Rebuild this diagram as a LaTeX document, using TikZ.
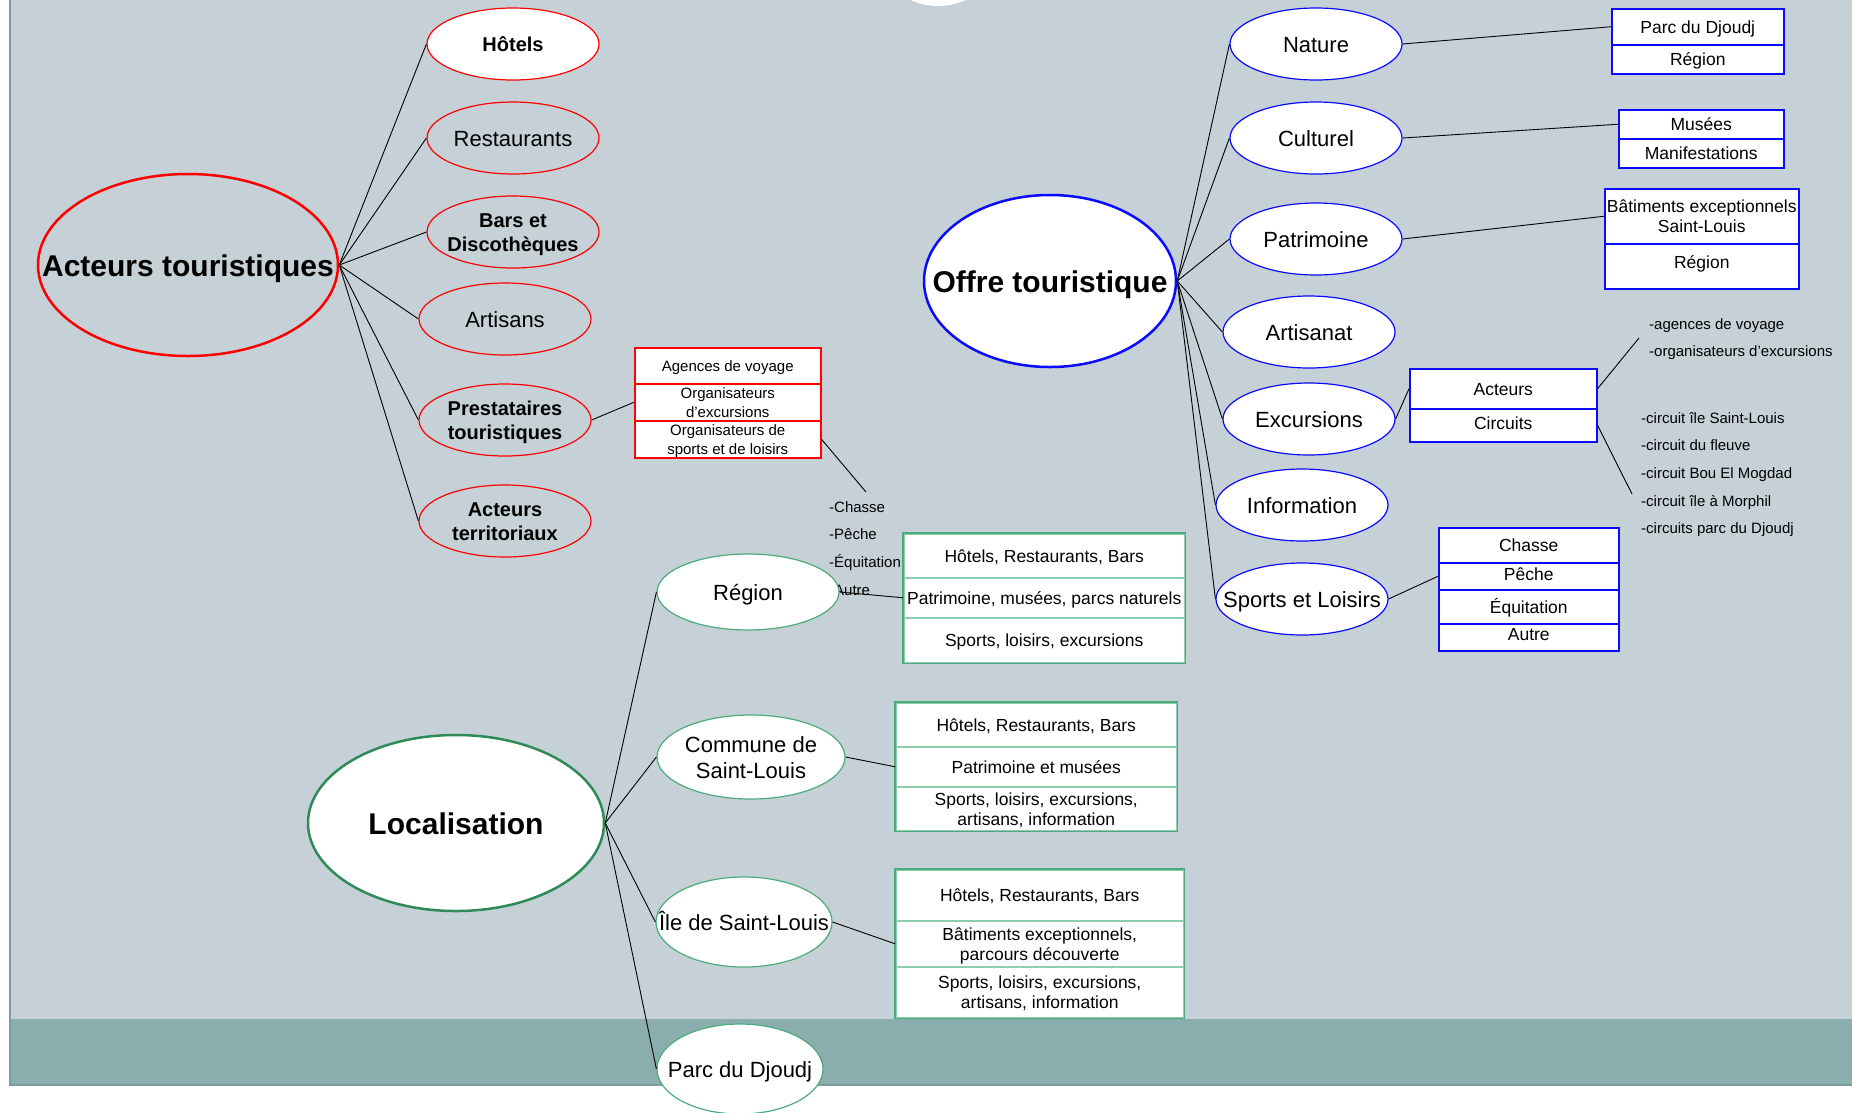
\documentclass[tikz,border=0pt]{standalone}
\usepackage{fontspec}
\setmainfont{Liberation Sans}
\usetikzlibrary{shapes.geometric}
\definecolor{slidebg}{HTML}{C5D1D7}
\definecolor{slideband}{HTML}{8AADAD}
\definecolor{slideedge}{HTML}{7B9C9C}
\definecolor{acteurred}{HTML}{FF0000}
\definecolor{offreblue}{HTML}{0A0AFF}
\definecolor{lieugreen}{HTML}{2E8B57}
\definecolor{cellgreen}{HTML}{4DAA7A}
\definecolor{rulegreen}{HTML}{8CCFAE}
\newcommand{\leafw}{172pt}
\newcommand{\leafh}{72pt}
\newcommand{\hubfont}{\fontsize{30}{34}\selectfont\bfseries}
\newcommand{\leaffont}{\fontsize{22}{26}\selectfont}
\newcommand{\leafbold}{\fontsize{20}{24}\selectfont\bfseries}
\newcommand{\cellfont}{\fontsize{17.5}{20}\selectfont}
\newcommand{\smallcell}{\fontsize{15}{18.5}\selectfont}
\newcommand{\listfont}{\fontsize{15}{27.7}\selectfont}
\newcommand{\ctext}[1]{\makebox[0pt]{\raisebox{-0.14em}[\height][\depth]{\begin{tabular}{@{}c@{}}#1\end{tabular}}}}

\begin{document}
\begin{tikzpicture}[x=1pt, y=-1pt,
    hub/.style={ellipse, inner sep=0pt, line width=2.5pt, font=\hubfont},
    leaf/.style={ellipse, inner sep=0pt, line width=1.2pt, minimum width=\leafw, minimum height=\leafh, font=\leaffont},
    cell/.style={rectangle, anchor=north west, inner sep=0pt, fill=white, line width=1.5pt},
    redcell/.style={cell, draw=acteurred, font=\smallcell},
    bluecell/.style={cell, draw=offreblue, font=\cellfont},
    greencell/.style={cell, draw=rulegreen, font=\cellfont},
    listtext/.style={anchor=north west, inner sep=0pt, align=left, font=\listfont},
    link/.style={line width=0.9pt}]
    \useasboundingbox (0,0) rectangle (1852,1112);

    % slide
    \fill[white] (0,0) rectangle (1852,1112);
    \fill[slidebg] (9,0) rectangle (1852,1019);
    \fill[slideband] (9,1019) rectangle (1852,1085);
    \draw[slideedge, line width=2.5pt] (10,0) -- (10,1085) -- (1852,1085);
    \fill[white] (938,-60) circle (66pt);

    % side lists
    \node[listtext] (sportsList) at (829,501) {-Chasse\\-Pêche\\-Équitation\\-Autre};
    \node[listtext] (acteursList) at (1649,318) {-agences de voyage\\-organisateurs d’excursions};
    \node[listtext] (circuitsList) at (1641,412) {-circuit île Saint-Louis\\-circuit du fleuve\\-circuit Bou El Mogdad\\-circuit île à Morphil\\-circuits parc du Djoudj};
    \coordinate (sportsTip) at (866,492);
    \coordinate (acteursTip) at (1639,338);
    \coordinate (circuitsTip) at (1632,494);

    % acteurs touristiques
    \node[hub, draw=acteurred, minimum width=300pt, minimum height=182pt] (acteurs) at (188,265) {\ctext{Acteurs touristiques}};
    \node[leaf, draw=acteurred, fill=white, font=\leafbold] (hotels) at (513,44) {\ctext{Hôtels}};
    \node[leaf, draw=acteurred] (restos) at (513,138) {\ctext{Restaurants}};
    \node[leaf, draw=acteurred, font=\leafbold] (bars) at (513,232) {\ctext{Bars et\\Discothèques}};
    \node[leaf, draw=acteurred] (artisans) at (505,319) {\ctext{Artisans}};
    \node[leaf, draw=acteurred, font=\leafbold] (prest) at (505,420) {\ctext{Prestataires\\touristiques}};
    \node[leaf, draw=acteurred, font=\leafbold] (territ) at (505,521) {\ctext{Acteurs\\territoriaux}};

    \node[redcell, minimum width=186pt, minimum height=36pt] (pr1) at (634,347) {\ctext{Agences de voyage}};
    \node[redcell, minimum width=186pt, minimum height=37pt] (pr2) at (634,383) {\ctext{Organisateurs\\d’excursions}};
    \node[redcell, minimum width=186pt, minimum height=36pt] (pr3) at (634,420) {\ctext{Organisateurs de\\sports et de loisirs}};

    % offre touristique
    \node[hub, draw=offreblue, fill=white, minimum width=252pt, minimum height=172pt] (offre) at (1050,281) {\ctext{Offre touristique}};
    \node[leaf, draw=offreblue, fill=white] (nature) at (1316,44) {\ctext{Nature}};
    \node[leaf, draw=offreblue, fill=white] (culturel) at (1316,138) {\ctext{Culturel}};
    \node[leaf, draw=offreblue, fill=white] (patrimoine) at (1316,239) {\ctext{Patrimoine}};
    \node[leaf, draw=offreblue, fill=white] (artisanat) at (1309,332) {\ctext{Artisanat}};
    \node[leaf, draw=offreblue, fill=white] (excursions) at (1309,419) {\ctext{Excursions}};
    \node[leaf, draw=offreblue, fill=white] (information) at (1302,505) {\ctext{Information}};
    \node[leaf, draw=offreblue, fill=white] (sports) at (1302,599) {\ctext{Sports et Loisirs}};

    \node[bluecell, minimum width=172pt, minimum height=36pt] (nat1) at (1611,8) {\ctext{Parc du Djoudj}};
    \node[bluecell, minimum width=172pt, minimum height=29pt] (nat2) at (1611,44) {\ctext{Région}};
    \node[bluecell, minimum width=165pt, minimum height=29pt] (cul1) at (1618,109) {\ctext{Musées}};
    \node[bluecell, minimum width=165pt, minimum height=29pt] (cul2) at (1618,138) {\ctext{Manifestations}};
    \node[bluecell, minimum width=194pt, minimum height=55pt] (pat1) at (1604,188) {\ctext{Bâtiments exceptionnels\\Saint-Louis}};
    \node[bluecell, minimum width=194pt, minimum height=45pt] (pat2) at (1604,243) {\ctext{\raisebox{8pt}{Région}}};
    \node[bluecell, minimum width=187pt, minimum height=40pt] (exc1) at (1409,368) {\ctext{Acteurs}};
    \node[bluecell, minimum width=187pt, minimum height=33pt] (exc2) at (1409,408) {\ctext{\raisebox{3pt}{Circuits}}};
    \node[bluecell, minimum width=180pt, minimum height=35pt] (spo1) at (1438,527) {\ctext{Chasse}};
    \node[bluecell, minimum width=180pt, minimum height=27pt] (spo2) at (1438,562) {\ctext{\raisebox{4pt}{Pêche}}};
    \node[bluecell, minimum width=180pt, minimum height=34pt] (spo3) at (1438,589) {\ctext{Équitation}};
    \node[bluecell, minimum width=180pt, minimum height=27pt] (spo4) at (1438,623) {\ctext{\raisebox{5pt}{Autre}}};

    % localisation
    \node[hub, draw=lieugreen, fill=white, minimum width=296pt, minimum height=176pt] (loc) at (456,823) {\ctext{Localisation}};
    \node[leaf, draw=cellgreen, fill=white, minimum width=182pt, minimum height=76pt] (region) at (748,592) {\ctext{Région}};
    \node[leaf, draw=cellgreen, fill=white, minimum width=188pt, minimum height=84pt] (commune) at (751,757) {\ctext{Commune de\\Saint-Louis}};
    \node[leaf, draw=cellgreen, fill=white, minimum width=176pt, minimum height=90pt] (ile) at (744,922) {\ctext{Île de Saint-Louis}};
    \node[leaf, draw=cellgreen, fill=white, minimum width=166pt, minimum height=90pt] (parc) at (740,1069) {\ctext{Parc du Djoudj}};

    \node[greencell, minimum width=281pt, minimum height=44pt] (reg1) at (903,533) {\ctext{Hôtels, Restaurants, Bars}};
    \node[greencell, minimum width=281pt, minimum height=40pt] (reg2) at (903,577) {\ctext{Patrimoine, musées, parcs naturels}};
    \node[greencell, minimum width=281pt, minimum height=45pt] (reg3) at (903,617) {\ctext{Sports, loisirs, excursions}};
    \node[greencell, minimum width=281pt, minimum height=44pt] (com1) at (895,702) {\ctext{Hôtels, Restaurants, Bars}};
    \node[greencell, minimum width=281pt, minimum height=40pt] (com2) at (895,746) {\ctext{Patrimoine et musées}};
    \node[greencell, minimum width=281pt, minimum height=44pt] (com3) at (895,786) {\ctext{Sports, loisirs, excursions,\\artisans, information}};
    \node[greencell, minimum width=288pt, minimum height=51pt] (ile1) at (895,869) {\ctext{Hôtels, Restaurants, Bars}};
    \node[greencell, minimum width=288pt, minimum height=46pt] (ile2) at (895,920) {\ctext{Bâtiments exceptionnels,\\parcours découverte}};
    \node[greencell, minimum width=288pt, minimum height=51pt] (ile3) at (895,966) {\ctext{Sports, loisirs, excursions,\\artisans, information}};

    % table edges
    \draw[cellgreen, line width=1.5pt] (reg1.north west) rectangle (reg3.south east);
    \draw[cellgreen, line width=1.5pt] (com1.north west) rectangle (com3.south east);
    \draw[cellgreen, line width=1.5pt] (ile1.north west) rectangle (ile3.south east);

    % links
    \draw[link] (acteurs.east) -- (hotels.west);
    \draw[link] (acteurs.east) -- (restos.west);
    \draw[link] (acteurs.east) -- (bars.west);
    \draw[link] (acteurs.east) -- (artisans.west);
    \draw[link] (acteurs.east) -- (prest.west);
    \draw[link] (acteurs.east) -- (territ.west);
    \draw[link] (prest.east) -- (pr2.west);
    \draw[link] (pr3.east) -- (sportsTip);

    \draw[link] (offre.east) -- (nature.west);
    \draw[link] (offre.east) -- (culturel.west);
    \draw[link] (offre.east) -- (patrimoine.west);
    \draw[link] (offre.east) -- (artisanat.west);
    \draw[link] (offre.east) -- (excursions.west);
    \draw[link] (offre.east) -- (information.west);
    \draw[link] (offre.east) -- (sports.west);
    \draw[link] (nature.east) -- (nat1.west);
    \draw[link] (culturel.east) -- (cul1.west);
    \draw[link] (patrimoine.east) -- (pat1.west);
    \draw[link] (excursions.east) -- (exc1.west);
    \draw[link] (exc1.east) -- (acteursTip);
    \draw[link] (exc2.east) -- (circuitsTip);
    \draw[link] (sports.east) -- (spo2.west);

    \draw[link] (loc.east) -- (region.west);
    \draw[link] (loc.east) -- (commune.west);
    \draw[link] (loc.east) -- (ile.west);
    \draw[link] (loc.east) -- (parc.west);
    \draw[link] (region.east) -- (reg2.west);
    \draw[link] (commune.east) -- (com2.west);
    \draw[link] (ile.east) -- (ile2.west);
\end{tikzpicture}
\end{document}
